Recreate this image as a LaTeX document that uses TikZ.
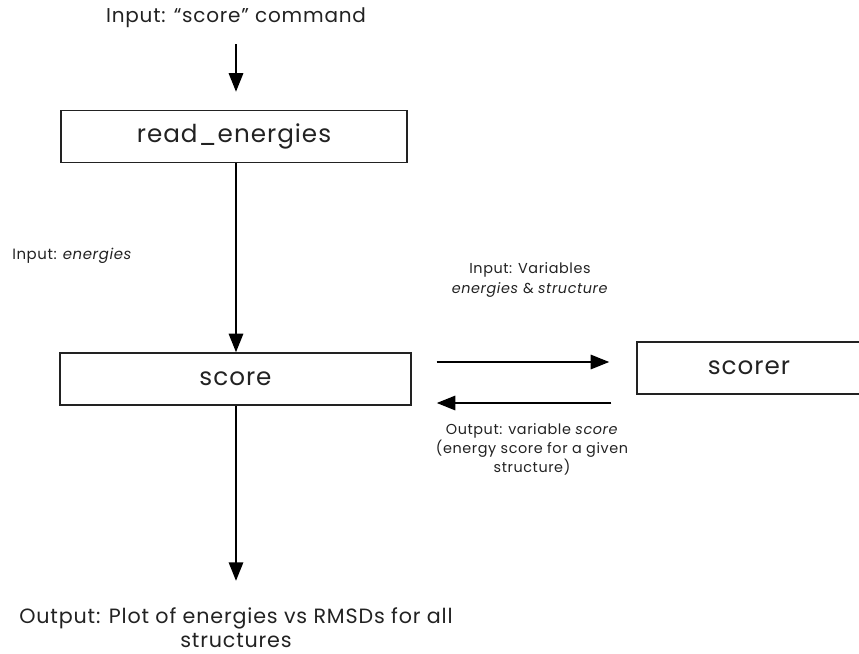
\documentclass[tikz,border=0pt]{standalone}
\usepackage{fontspec}
\setmainfont[LetterSpace=4]{Poppins}
\usepackage{xcolor}
\definecolor{inkgray}{RGB}{34, 34, 34}
\usetikzlibrary{arrows.meta, positioning, calc}

\begin{document}
\begin{tikzpicture}[
    x=0.75pt, y=-0.75pt,
    block/.style={rectangle, draw=inkgray, line width=0.9pt, minimum height=39pt, inner sep=0pt, font=\fontsize{18.5}{22}\selectfont},
    flow/.style={-{Triangle[width=10.5pt, length=14pt]}, line width=2.2pt, black},
    note/.style={align=center, text=inkgray, inner sep=0pt}
]
    \useasboundingbox (0, 0) rectangle (859, 653);

    % the three program steps
    \node[block, minimum width=259.5pt, text=inkgray] (readE) at (234, 136.5) {read\_energies};
    \node[block, minimum width=263.25pt, text=inkgray] (score) at (235.5, 379) {score};
    \node[block, minimum width=168pt, text=inkgray] (scorer) at (749, 368) {scorer};

    % free ends of the vertical flow
    \coordinate (cmdIn) at (236, 44);
    \coordinate (plotOut) at (236, 581);

    \draw[flow] (cmdIn) -- ($(readE.north)+(2, -18)$);
    \draw[flow] ($(readE.south)+(2, 0)$) -- ($(score.north)+(0.5, 0)$);
    \draw[flow] ($(score.south)+(0.5, 0)$) -- (plotOut);

    % exchange with the scorer
    \draw[flow] ($(score.east)+(25, -17)$) -- ($(scorer.west)+(-27, -6)$);
    \draw[flow] ($(scorer.west)+(-25, 35)$) -- ($(score.east)+(25, 24)$);

    % labels
    \node[note, font=\fontsize{15}{18}\selectfont] (cmdLabel) at (236, 18) {Input: “score” command};
    \node[note, anchor=west, font=\fontsize{11.2}{13}\selectfont] (energyLabel) at (12, 256) {Input: \textit{energies}};
    \node[note, font=\fontsize{10.8}{15}\selectfont] (varsLabel) at (530, 280) {Input: Variables\\\textit{energies} \& \textit{structure}};
    \node[note, font=\fontsize{10.8}{14.3}\selectfont] (scoreLabel) at (532, 449) {Output: variable \textit{score}\\(energy score for a given\\structure)};
    \node[note, font=\fontsize{15.5}{18}\selectfont] (plotLabel) at (236, 628) {Output: Plot of energies vs RMSDs for all\\structures};
\end{tikzpicture}
\end{document}
